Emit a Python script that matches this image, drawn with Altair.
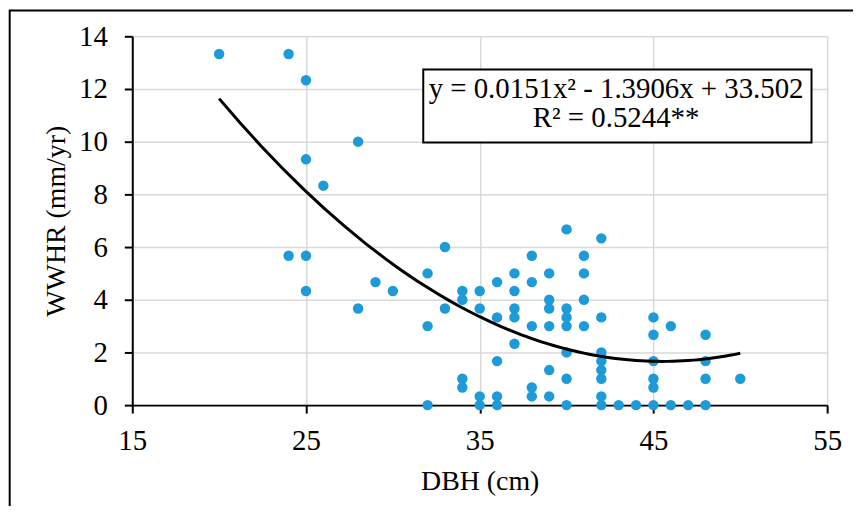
import altair as alt
import pandas as pd

# ---- data ----
dbh = [20,
       24, 24,
       25, 25, 25, 25,
       26,
       28, 28,
       29,
       30,
       32, 32, 32,
       33, 33,
       34, 34, 34, 34,
       35, 35, 35, 35,
       36, 36, 36, 36, 36,
       37, 37, 37, 37, 37,
       38, 38, 38, 38, 38,
       39, 39, 39, 39, 39, 39,
       40, 40, 40, 40, 40, 40, 40,
       41, 41, 41, 41,
       42, 42, 42, 42, 42, 42, 42, 42,
       43,
       44,
       45, 45, 45, 45, 45, 45,
       46, 46,
       47,
       48, 48, 48, 48,
       50]
wwhr = [13.33,
        13.33, 5.67,
        12.33, 9.33, 5.67, 4.33,
        8.33,
        10.0, 3.67,
        4.67,
        4.33,
        5.0, 3.0, 0.0,
        6.0, 3.67,
        4.33, 4.0, 1.0, 0.67,
        4.33, 3.67, 0.33, 0.0,
        4.67, 3.33, 1.67, 0.33, 0.0,
        5.0, 4.33, 3.67, 3.33, 2.33,
        5.67, 4.67, 3.0, 0.67, 0.33,
        5.0, 4.0, 3.67, 3.0, 1.33, 0.33,
        6.67, 3.67, 3.33, 3.0, 2.0, 1.0, 0.0,
        5.67, 5.0, 4.0, 3.0,
        6.33, 3.33, 2.0, 1.67, 1.33, 1.0, 0.33, 0.0,
        0.0,
        0.0,
        3.33, 2.67, 1.67, 1.0, 0.67, 0.0,
        3.0, 0.0,
        0.0,
        2.67, 1.67, 1.0, 0.0,
        1.0]

x_ticks = [15, 25, 35, 45, 55]
y_ticks = [0, 2, 4, 6, 8, 10, 12, 14]
x_title = "DBH (cm)"
y_title = "WWHR (mm/yr)"
eq_lines = ["y = 0.0151x\u00b2 - 1.3906x + 33.502", "R\u00b2 = 0.5244**"]
eq_x = [42.85, 42.85]
eq_y = [11.67, 10.54]
box = {"x1": [31.75], "x2": [54.1], "y1": [9.97], "y2": [12.74]}

FONT = "Liberation Serif"
W, H = 699, 371

pts = pd.DataFrame({"dbh": dbh, "wwhr": wwhr})
txt = pd.DataFrame({"t": eq_lines, "tx": eq_x, "ty": eq_y})
boxdf = pd.DataFrame(box)

xscale = alt.Scale(domain=[15, 55], nice=False, zero=False)
yscale = alt.Scale(domain=[0, 14], nice=False, zero=False)

xaxis = alt.Axis(values=x_ticks, title=x_title, grid=True, gridColor="#d9d9d9",
                 gridWidth=1.5, domainColor="black", domainWidth=2,
                 tickColor="black", tickWidth=2, tickSize=8,
                 labelFont=FONT, labelFontSize=29, labelColor="black",
                 labelPadding=14, labelFlush=False, labelOverlap=False,
                 titleFont=FONT, titleFontSize=28, titleFontWeight="normal",
                 titleColor="black", titleX=W / 2, titleY=85,
                 titleBaseline="alphabetic", titleAlign="center")
yaxis = alt.Axis(values=y_ticks, title=y_title, grid=True, gridColor="#d9d9d9",
                 gridWidth=1.5, domainColor="black", domainWidth=2,
                 tickColor="black", tickWidth=2, tickSize=8,
                 labelFont=FONT, labelFontSize=29, labelColor="black",
                 labelPadding=17, labelFlush=False, labelOverlap=False,
                 titleFont=FONT, titleFontSize=28, titleFontWeight="normal",
                 titleColor="black", titleAngle=270, titleX=-67.8,
                 titleY=H / 2, titleBaseline="alphabetic", titleAlign="center")

points = alt.Chart(pts).mark_circle(size=110, color="#1d9ad8", opacity=1).encode(
    x=alt.X("dbh:Q", scale=xscale, axis=xaxis),
    y=alt.Y("wwhr:Q", scale=yscale, axis=yaxis),
)

trend = alt.Chart(pts).transform_regression(
    "dbh", "wwhr", method="poly", order=2
).mark_line(color="black", strokeWidth=3).encode(
    x=alt.X("dbh:Q", scale=xscale, axis=xaxis),
    y=alt.Y("wwhr:Q", scale=yscale, axis=yaxis),
)

boxmark = alt.Chart(boxdf).mark_rect(fill="white", stroke="black", strokeWidth=2).encode(
    x=alt.X("x1:Q", scale=xscale, axis=xaxis),
    x2="x2:Q",
    y=alt.Y("y1:Q", scale=yscale, axis=yaxis),
    y2="y2:Q",
)

eq = alt.Chart(txt).mark_text(font=FONT, fontSize=29, color="black",
                              align="center", baseline="alphabetic").encode(
    x=alt.X("tx:Q", scale=xscale, axis=xaxis),
    y=alt.Y("ty:Q", scale=yscale, axis=yaxis),
    text="t:N",
)

border = alt.Chart(pd.DataFrame({"a": [0]})).mark_rect(
    fill="transparent", stroke="black", strokeWidth=2
).encode(
    x=alt.value(-123.3), x2=alt.value(1200),
    y=alt.value(-26), y2=alt.value(1200),
)

chart = alt.layer(border, points, trend, boxmark, eq).properties(
    width=W, height=H,
    autosize=alt.AutoSizeParams(type="none"),
    padding={"left": 125, "top": 27, "right": 26, "bottom": 100},
    background="white",
).configure_view(stroke=None)

chart.save("out.html", embed_options={"renderer": "svg", "actions": False})
